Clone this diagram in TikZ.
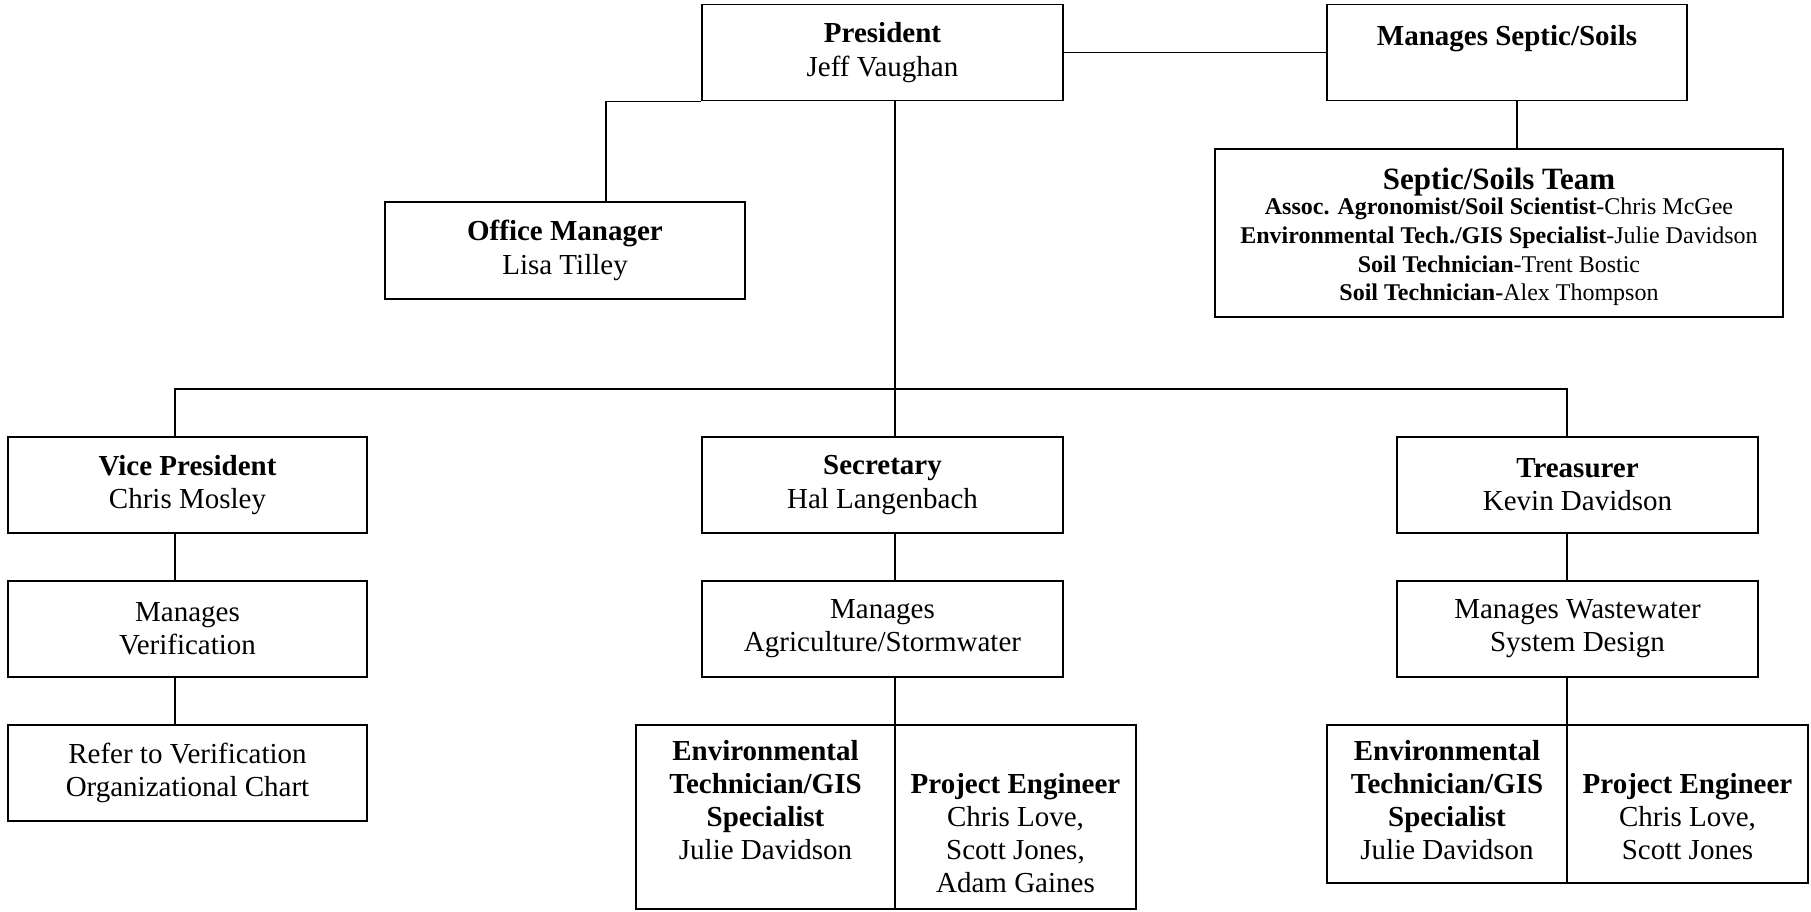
\documentclass[tikz,border=0pt]{standalone}
\usepackage{fontspec}
\setmainfont{Liberation Serif}
\tikzset{
  box/.style={draw, line width=0.8pt, inner sep=0pt, align=center,
    font=\fontsize{14.5}{16.6}\selectfont},
  txt/.style={inner sep=0pt, align=center, font=\fontsize{14.5}{16.6}\selectfont},
  conn/.style={line width=0.8pt},
}
\begin{document}
\begin{tikzpicture}[x=0.5pt,y=-0.5pt]
\useasboundingbox (0,0) rectangle (1811,911);
% top
\node[box, minimum width=180.5pt, minimum height=48pt] (pres) at (882.5,52.5) {\textbf{President}\\Jeff Vaughan};
\node[box, minimum width=180pt, minimum height=48pt] (mss) at (1507,52.5) {\textbf{Manages Septic/Soils}\\\mbox{}};
\node[box, minimum width=284pt, minimum height=84pt] (team) at (1499,233) {};
\node[txt, font=\fontsize{12}{14.3}\selectfont] (teamt) at (1499,237)
  {{\fontsize{15.5}{16}\selectfont\textbf{Septic/Soils Team}}\\[-1.7pt]
   \textbf{Assoc. Agronomist/Soil Scientist}-Chris McGee\\
   \textbf{Environmental Tech./GIS Specialist}-Julie Davidson\\
   \textbf{Soil Technician}-Trent Bostic\\
   \textbf{Soil Technician-}Alex Thompson};
\node[box, minimum width=180pt, minimum height=48.5pt] (om) at (565,250.5) {\textbf{Office Manager}\\Lisa Tilley};
% row 2
\node[box, minimum width=179.5pt, minimum height=48pt] (vp) at (187.5,485) {\textbf{Vice President}\\Chris Mosley};
\node[box, minimum width=180.5pt, minimum height=48pt] (sec) at (882.5,485) {\textbf{Secretary}\\Hal Langenbach};
\node[box, minimum width=180.5pt, minimum height=48pt] (tre) at (1577.5,485) {\textbf{Treasurer}\\Kevin Davidson};
% row 3
\node[box, minimum width=179.5pt, minimum height=48pt] (mv) at (187.5,629) {Manages\\Verification};
\node[box, minimum width=180.5pt, minimum height=48pt] (mag) at (882.5,629) {Manages\\Agriculture/Stormwater};
\node[box, minimum width=180.5pt, minimum height=48pt] (mww) at (1577.5,629) {Manages Wastewater\\System Design};
% row 4
\node[box, minimum width=179.5pt, minimum height=48pt] (ref) at (187.5,773) {Refer to Verification\\Organizational Chart};
\node[box, minimum width=129.5pt, minimum height=92pt] (secL) at (765.5,817) {};
\node[box, minimum width=120.5pt, minimum height=92pt] (secR) at (1015.5,817) {};
\node[box, minimum width=120pt, minimum height=79pt] (treL) at (1447,804) {};
\node[box, minimum width=120.5pt, minimum height=79pt] (treR) at (1687.5,804) {};
\node[txt] (secLt) at (765.5,800) {\textbf{Environmental}\\\textbf{Technician/GIS}\\\textbf{Specialist}\\Julie Davidson};
\node[txt] (secRt) at (1015.5,833) {\textbf{Project Engineer}\\Chris Love,\\Scott Jones,\\Adam Gaines};
\node[txt] (treLt) at (1447,800) {\textbf{Environmental}\\\textbf{Technician/GIS}\\\textbf{Specialist}\\Julie Davidson};
\node[txt] (treRt) at (1687.5,816.5) {\textbf{Project Engineer}\\Chris Love,\\Scott Jones};
% connector coordinates
\coordinate (xom) at (606,0);
\coordinate (xss) at (1517,0);
\coordinate (xl) at (175,0);
\coordinate (xm) at (895,0);
\coordinate (xr) at (1567,0);
\coordinate (hub) at (895,389);
% connectors
\draw[conn] (pres.east) -- (mss.west);
\draw[conn] (mss.south -| xss) -- (team.north -| xss);
\draw[conn] (om.north -| xom) |- (pres.south west);
\draw[conn] (pres.south -| xm) -- (sec.north -| xm);
\draw[conn] (vp.north -| xl) |- (hub) -| (tre.north -| xr);
\draw[conn] (vp.south -| xl) -- (mv.north -| xl);
\draw[conn] (mv.south -| xl) -- (ref.north -| xl);
\draw[conn] (sec.south -| xm) -- (mag.north -| xm);
\draw[conn] (mag.south -| xm) -- (secL.north -| xm);
\draw[conn] (tre.south -| xr) -- (mww.north -| xr);
\draw[conn] (mww.south -| xr) -- (treL.north -| xr);
\end{tikzpicture}
\end{document}
